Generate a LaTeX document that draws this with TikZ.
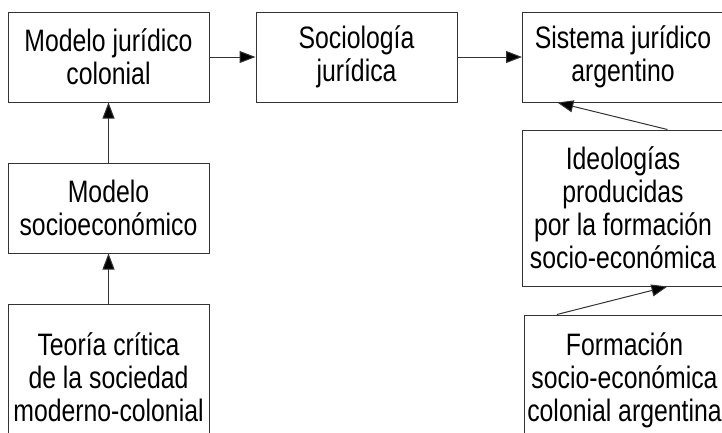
\documentclass[tikz,border=0pt]{standalone}
\usepackage{fontspec}
\setmainfont{Liberation Sans}[FakeStretch=0.80]
\usetikzlibrary{arrows.meta,calc}
\tikzset{
  box/.style={draw=black!80, line width=1pt, rectangle, align=center, inner sep=0pt,
    minimum width=201pt, minimum height=90pt,
    font=\fontsize{31pt}{33pt}\selectfont},
  arr/.style={draw=black!80, line width=1pt, -{Triangle[length=16pt,width=12pt,fill=black]}}
}
\begin{document}
\begin{tikzpicture}[x=1pt,y=-1pt]
\useasboundingbox (0,0) rectangle (722,432);
\begin{scope}
\clip (0,0) rectangle (722,432);
\node[box] (A) at (108.5,57) {Modelo jurídico\\colonial};
\node[box] (B) at (356.5,57) {Sociología\\jurídica};
\node[box] (C) at (623,57) {Sistema jurídico\\argentino};
\node[box, minimum width=201pt, minimum height=156pt] (D) at (623,208) {Ideologías\\producidas\\por la formación\\socio-económica};
\node[box, minimum width=201pt, minimum height=130pt] (E) at (624.5,380) {Formación\\socio-económica\\colonial argentina};
\node[box] (F) at (108.5,208) {Modelo\\socioeconómico};
\node[box, minimum height=146pt] (G) at (108.5,377) {Teoría crítica\\de la sociedad\\moderno-colonial};
\end{scope}
\draw[arr] (A.east) -- (B.west);
\draw[arr] (B.east) -- (C.west);
\draw[arr] (F.north) -- (A.south);
\draw[arr] (G.north) -- (F.south);
\coordinate (d1) at ($(D.north west)!0.72!(D.north east)$);
\coordinate (c1) at ($(C.south west)!0.175!(C.south east)$);
\coordinate (e1) at ($(E.north west)!0.165!(E.north east)$);
\coordinate (d2) at ($(D.south west)!0.72!(D.south east)$);
\draw[arr] (d1) -- (c1);
\draw[arr] (e1) -- (d2);
\end{tikzpicture}
\end{document}
